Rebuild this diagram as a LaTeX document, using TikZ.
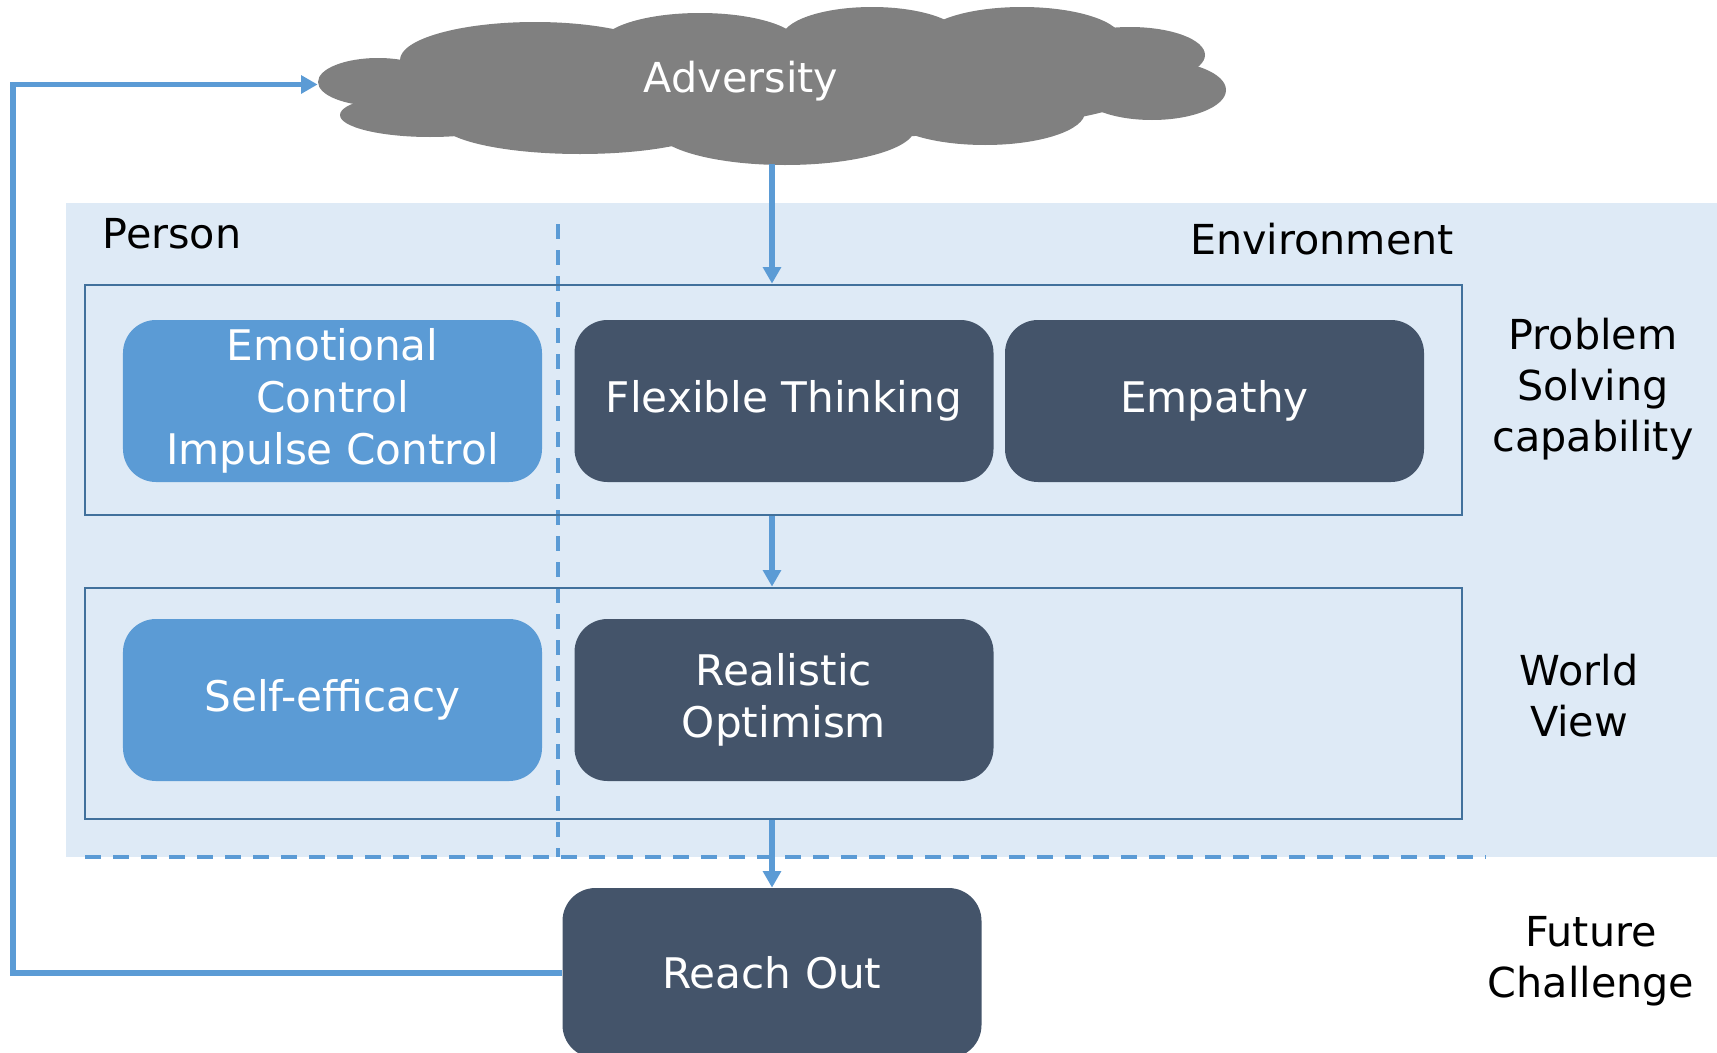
\documentclass[tikz,border=0pt]{standalone}
\usepackage{fontspec}
\setmainfont{DejaVu Sans}
\usetikzlibrary{arrows.meta,positioning}
\definecolor{cloudgray}{HTML}{808080}
\definecolor{bgblue}{HTML}{DEEAF6}
\definecolor{midblue}{HTML}{5B9BD5}
\definecolor{slate}{HTML}{44546A}
\definecolor{framecol}{HTML}{41719C}

\begin{document}
\begin{tikzpicture}[x=0.2mm,y=-0.2mm,
    font=\fontsize{23.5}{29}\selectfont,
    skill/.style={rounded corners=6.6mm, minimum width=83.8mm, minimum height=32.4mm, align=center, text=white, inner sep=0pt, font=\fontsize{24}{29.5}\selectfont},
    own/.style={skill, fill=midblue},
    env/.style={skill, fill=slate},
    level/.style={draw=framecol, line width=0.55mm, minimum width=275.4mm, minimum height=46mm, inner sep=0pt},
    flow/.style={midblue, line width=1.1mm, -{Triangle[length=3.3mm,width=3.5mm]}},
    side/.style={align=center}]
    \useasboundingbox (0,0) rectangle (1717,1052);
    % background of person / environment
    \fill[bgblue] (66,203) rectangle (1717,857);
    \draw[midblue, line width=0.7mm, dash pattern=on 3mm off 2.2mm] (558,224) -- (558,857);
    \draw[midblue, line width=0.8mm, dash pattern=on 3.2mm off 2.4mm] (85,857) -- (1486,857);

    % cloud made of puffs
    \foreach \cx/\cy/\rx/\ry in {772/85/380/55, 378/82/60/24, 430/115/90/22, 580/122/140/32,
        785/128/130/37, 985/112/100/33, 1152/90/74/30, 1130/55/75/28, 1022/40/100/33,
        872/38/90/31, 700/45/100/32, 535/60/135/38}
        \fill[cloudgray] (\cx,\cy) ellipse [x radius=\rx*0.2mm, y radius=\ry*0.2mm];
    \node[minimum width=181.6mm, minimum height=31.8mm, inner sep=0pt] (adv) at (772,84.5) {};
    \node[text=white, anchor=base] (advtext) at (741,92) {Adversity};

    \node[level] (ps) at (773.5,400) {};
    \node[level, minimum height=46.2mm] (wv) at (773.5,703.5) {};

    \node[own] (emo) at (332.5,401) {Emotional\\Control\\Impulse Control};
    \node[env] (flex) at (784,401) {Flexible Thinking};
    \node[env] (emp) at (1214.5,401) {Empathy};
    \node[own] (self) at (332.5,700) {Self-efficacy};
    \node[env] (real) at (784,700) {Realistic\\Optimism};
    \node[env, minimum height=34mm] (reach) at (772,973) {Reach Out};

    \node (person) at (172,234) {Person};
    \node (envir) at (1322,239) {Environment};
    \node[side] (pslab) at (1593,389) {Problem\\Solving\\capability};
    \node[side] (wvlab) at (1579,696) {World\\View};
    \node[side] (fclab) at (1591,961) {Future\\Challenge};

    \coordinate (back) at (13,84.5);
    \draw[flow] (adv.south) -- (adv.south |- ps.north);
    \draw[flow] (ps.south -| adv) -- (wv.north -| adv);
    \draw[flow] (wv.south -| reach) -- (reach.north);
    \draw[flow] (reach.west) -| (back) -- (adv.west);
\end{tikzpicture}
\end{document}
